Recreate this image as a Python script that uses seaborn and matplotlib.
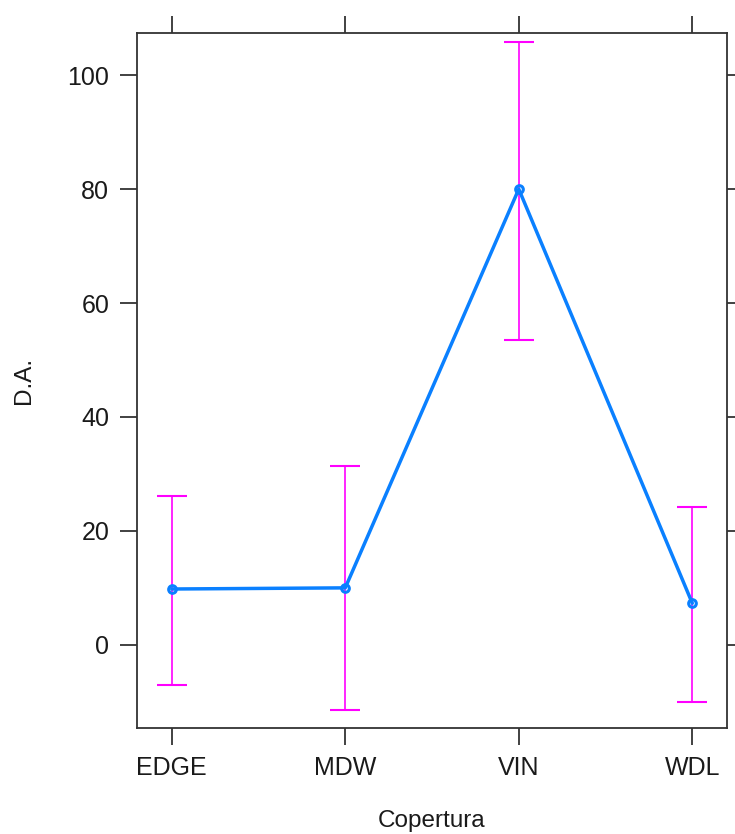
import numpy as np
import pandas as pd
import matplotlib
matplotlib.use("Agg")
import matplotlib.pyplot as plt
import seaborn as sns

# valeurs
copertura = ["EDGE", "MDW", "VIN", "WDL"]
media = [9.8, 10.0, 80.0, 7.3]
inferiore = [-7.0, -11.5, 53.5, -10.0]
superiore = [26.1, 31.4, 105.8, 24.2]

df = pd.DataFrame({"Copertura": copertura, "DA": media,
                   "lo": inferiore, "hi": superiore})

sns.set_style("white")
plt.rcParams["font.family"] = ["Liberation Sans", "DejaVu Sans"]
plt.rcParams["text.color"] = "#1a1a1a"

fig = plt.figure(figsize=(7.35, 8.34), dpi=100)
ax = fig.add_axes([137 / 735, 1 - 728 / 834, (727 - 137) / 735, (728 - 33) / 834])

# barre di errore
ax.errorbar(np.arange(len(df)), df["DA"],
            yerr=[df["DA"] - df["lo"], df["hi"] - df["DA"]],
            fmt="none", ecolor="#FF00FF", elinewidth=1.2, capsize=11,
            capthick=1.5, zorder=1)

sns.pointplot(data=df, x="Copertura", y="DA", errorbar=None, color="#0A80FF",
              markers="o", linewidth=2.5, markersize=5.5,
              markerfacecolor="none", markeredgewidth=2.2, ax=ax)

ax.set_xlim(-0.2, 3.2)
ax.set_ylim(-14.6, 107.4)
ax.set_yticks([0, 20, 40, 60, 80, 100])
ax.set_xlabel("Copertura", fontsize=17.5, labelpad=22, color="#1a1a1a")
ax.set_ylabel("D.A.", fontsize=17.5, labelpad=23, color="#1a1a1a")

for s in ax.spines.values():
    s.set_color("#333333")
    s.set_linewidth(1.3)
ax.tick_params(axis="both", direction="out", length=12, width=1.3,
               color="#333333", labelcolor="#1a1a1a", labelsize=18, pad=8,
               top=True, right=True, bottom=True, left=True,
               labeltop=False, labelright=False)

plt.savefig("out.png", dpi=100)
